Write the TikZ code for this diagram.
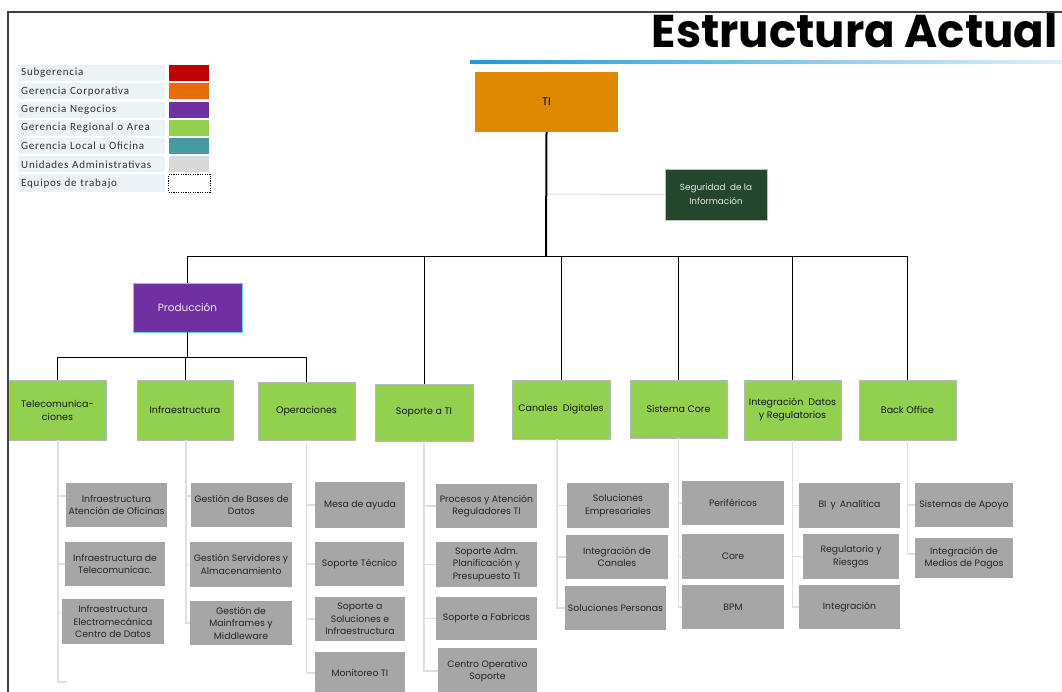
\documentclass[tikz,border=0pt]{standalone}
\usepackage{fontspec}
\setmainfont{Poppins}
\newfontfamily\legfont[LetterSpace=7]{Carlito}
\newfontfamily\titlefont{Poppins}
\usepackage{graphicx}
\definecolor{tiorange}{HTML}{DD8800}
\definecolor{segreen}{HTML}{22472D}
\definecolor{prodpurple}{HTML}{7030A0}
\definecolor{areagreen}{HTML}{92D050}
\definecolor{unitgray}{HTML}{A6A6A6}
\definecolor{subred}{HTML}{C00000}
\definecolor{corporange}{HTML}{E46C0A}
\definecolor{localteal}{HTML}{4599A0}
\definecolor{admgray}{HTML}{D9D9D9}
\definecolor{legbg}{HTML}{E9F2F4}
\definecolor{subline}{HTML}{DCE1E5}
\definecolor{framegray}{HTML}{404040}
\definecolor{titleblue}{HTML}{1E9AD6}
\definecolor{titlelight}{HTML}{DDF0FA}
\tikzset{
  box/.style={rectangle, inner sep=1pt, align=center, font=\fontsize{9.3}{12.5}\selectfont},
  unit/.style={box, fill=unitgray, text=black!85},
  area/.style={box, fill=areagreen, draw=black!28, line width=0.9pt, text=black!90, font=\fontsize{9.5}{13}\selectfont},
  conn/.style={draw=black, line width=0.9pt},
  spine/.style={draw=black, line width=2pt},
  sub/.style={draw=subline, line width=1.3pt},
  legtext/.style={rectangle, fill=legbg, anchor=west, inner sep=0pt, minimum width=147pt, minimum height=16pt, text=black!80, font=\legfont\fontsize{11}{12}\selectfont, text width=145pt, align=left},
  swatch/.style={rectangle, anchor=west, inner sep=0pt, minimum width=40pt, minimum height=16pt}
}
\begin{document}
\begin{tikzpicture}[x=1pt,y=-1pt]
\useasboundingbox (0,0) rectangle (1062,692);
% frame
\draw[framegray, line width=1.2pt] (1062,12) -- (8,12) -- (8,692);
% title
\node[anchor=base east, inner sep=0pt] (title) at (1058,48) {\resizebox{406pt}{34pt}{\titlefont\bfseries Estructura Actual}};
\shade[left color=titleblue, right color=titlelight] (470,60.5) rectangle (1062,64);
% legend
\node[legtext] (l1) at (18,73) {\hspace*{2pt}Subgerencia};
\node[legtext] (l2) at (18,91.3) {\hspace*{2pt}Gerencia Corporativa};
\node[legtext] (l3) at (18,109.6) {\hspace*{2pt}Gerencia Negocios};
\node[legtext] (l4) at (18,127.9) {\hspace*{2pt}Gerencia Regional o Area};
\node[legtext] (l5) at (18,146.2) {\hspace*{2pt}Gerencia Local u Oficina};
\node[legtext] (l6) at (18,164.5) {\hspace*{2pt}Unidades Administrativas};
\node[legtext, minimum height=18pt] (l7) at (18,183.5) {\hspace*{2pt}Equipos de trabajo};
\node[swatch, fill=subred] (s1) at (169,73) {};
\node[swatch, fill=corporange] (s2) at (169,91.3) {};
\node[swatch, fill=prodpurple] (s3) at (169,109.6) {};
\node[swatch, fill=areagreen] (s4) at (169,127.9) {};
\node[swatch, fill=localteal] (s5) at (169,146.2) {};
\node[swatch, fill=admgray] (s6) at (169,164.5) {};
\node[swatch, fill=white, draw=black, line width=1.1pt, dash pattern=on 1.2pt off 1.2pt, minimum height=18pt, minimum width=42pt] (s7) at (168,183.5) {};

% top level
\node[box, fill=tiorange, minimum width=143pt, minimum height=60pt, font=\fontsize{11}{13}\selectfont] (ti) at (546.5,102) {TI};
\node[box, fill=segreen, draw=black!25, line width=0.8pt, text=white!92!black, minimum width=102pt, minimum height=51pt, font=\fontsize{8.8}{14}\selectfont] (seg) at (716,194.5) {Seguridad \ de la\\Información};
\coordinate (bus) at (546,256);
\coordinate (sj) at (546,194);
\draw[sub, line width=1pt] (sj) -- (seg.west);
\draw[spine] (ti.south) -- (bus);

\node[box, fill=prodpurple, draw=cyan!60, line width=0.9pt, text=white!92!black, minimum width=109pt, minimum height=49pt, font=\fontsize{10.5}{12}\selectfont] (prod) at (187.5,307.5) {Producción};

% level 2
\node[area, minimum width=97pt, minimum height=60pt] (tel) at (57.5,410) {Telecomunica-\\ciones};
\node[area, minimum width=96pt, minimum height=60pt] (inf) at (185,410) {Infraestructura};
\node[area, minimum width=97pt, minimum height=58pt] (ope) at (306.5,411) {Operaciones};
\node[area, minimum width=98pt, minimum height=57pt] (sop) at (424,412.5) {Soporte a TI};
\node[area, minimum width=98pt, minimum height=59pt] (can) at (561,409.5) {Canales \ Digitales};
\node[area, minimum width=97pt, minimum height=58pt] (cor) at (678.5,409) {Sistema Core};
\node[area, minimum width=97pt, minimum height=60pt] (int) at (792.5,410) {Integración \ Datos\\y Regulatorios};
\node[area, minimum width=97pt, minimum height=60pt] (bo) at (907.5,410) {Back Office};

% bus connectors
\draw[conn] (bus) -| (prod.north);
\draw[conn] (bus) -| (sop.north);
\draw[conn] (bus) -| (can.north);
\draw[conn] (bus) -| (cor.north);
\draw[conn] (bus) -| (int.north);
\draw[conn] (bus) -| (bo.north);
\coordinate (pj) at (187.5,357);
\draw[conn] (prod.south) -- (pj);
\draw[conn] (pj) -| (tel.north);
\draw[conn] (pj) -| (inf.north);
\draw[conn] (pj) -| (ope.north);

% units
\node[unit, minimum width=101pt, minimum height=44pt] (t1) at (116.5,505) {Infraestructura\\Atención de Oficinas};
\node[unit, minimum width=100pt, minimum height=44pt] (t2) at (115,564) {Infraestructura de\\Telecomunicac.};
\node[unit, minimum width=102pt, minimum height=45pt] (t3) at (113,621.5) {Infraestructura\\Electromecánica\\Centro de Datos};
\coordinate (tend) at (67,682);

\node[unit, minimum width=101pt, minimum height=44pt] (i1) at (241.5,505) {Gestión de Bases de\\Datos};
\node[unit, minimum width=102pt, minimum height=45pt] (i2) at (241,564.5) {Gestión Servidores y\\Almacenamiento};
\node[unit, minimum width=102pt, minimum height=44pt] (i3) at (241,623) {Gestión de\\Mainframes y\\Middleware};

\node[unit, minimum width=90pt, minimum height=46pt] (o1) at (360,505) {Mesa de ayuda};
\node[unit, minimum width=89pt, minimum height=44pt] (o2) at (359.5,564) {Soporte Técnico};
\node[unit, minimum width=90pt, minimum height=44pt] (o3) at (360,619) {Soporte a\\Soluciones e\\Infraestructura};
\node[unit, minimum width=90pt, minimum height=42pt] (o4) at (360,673) {Monitoreo TI};

\node[unit, minimum width=101pt, minimum height=44pt] (p1) at (486.5,506) {Procesos y Atención\\Reguladores TI};
\node[unit, minimum width=101pt, minimum height=45pt] (p2) at (486.5,564.5) {Soporte Adm.\\Planificación y\\Presupuesto TI};
\node[unit, minimum width=101pt, minimum height=43pt] (p3) at (486.5,618.5) {Soporte a Fabricas};
\node[unit, minimum width=99pt, minimum height=46pt] (p4) at (487.5,671) {Centro Operativo\\Soporte};

\node[unit, minimum width=102pt, minimum height=45pt] (c1) at (618,505.5) {Soluciones\\Empresariales};
\node[unit, minimum width=102pt, minimum height=44pt] (c2) at (617,557) {Integración de\\Canales};
\node[unit, minimum width=101pt, minimum height=44pt] (c3) at (615.5,608) {Soluciones Personas};

\node[unit, minimum width=102pt, minimum height=44pt] (k1) at (733,503) {Periféricos};
\node[unit, minimum width=102pt, minimum height=45pt] (k2) at (733,556.5) {Core};
\node[unit, minimum width=102pt, minimum height=44pt] (k3) at (733,607) {BPM};

\node[unit, minimum width=101pt, minimum height=45pt] (n1) at (849.5,505.5) {BI \,y \,Analítica};
\node[unit, minimum width=96pt, minimum height=45pt] (n2) at (851,556.5) {Regulatorio y\\Riesgos};
\node[unit, minimum width=101pt, minimum height=44pt] (n3) at (849.5,607) {Integración};

\node[unit, minimum width=98pt, minimum height=44pt] (b1) at (964,505) {Sistemas de Apoyo};
\node[unit, minimum width=98pt, minimum height=40pt] (b2) at (964,558) {Integración de\\Medios de Pagos};

% sub connectors
\draw[sub] ([xshift=0.5pt]tel.south) |- ([yshift=9pt]t1.west);
\draw[sub] ([xshift=0.5pt]tel.south) |- (t2.west);
\draw[sub] ([xshift=0.5pt]tel.south) |- ([yshift=9pt]t3.west);
\draw[sub] ([xshift=0.5pt]tel.south) |- (tend);

\draw[sub] ([xshift=1pt]inf.south) |- ([yshift=9pt]i1.west);
\draw[sub] ([xshift=1pt]inf.south) |- (i2.west);
\draw[sub] ([xshift=1pt]inf.south) |- (i3.west);

\draw[sub] (ope.south) |- (o1.west);
\draw[sub] (ope.south) |- (o2.west);
\draw[sub] (ope.south) |- (o3.west);
\draw[sub] (ope.south) |- (o4.west);

\draw[sub] (sop.south) |- (p1.west);
\draw[sub] (sop.south) |- (p2.west);
\draw[sub] (sop.south) |- (p3.west);
\draw[sub] (sop.south) |- (p4.west);

\draw[sub] ([xshift=-4pt]can.south) |- (c1.west);
\draw[sub] ([xshift=-4pt]can.south) |- (c2.west);
\draw[sub] ([xshift=-4pt]can.south) |- (c3.west);

\draw[sub] (cor.south) |- (k1.west);
\draw[sub] (cor.south) |- (k2.west);
\draw[sub] (cor.south) |- (k3.west);

\draw[sub] (int.south) |- (n1.west);
\draw[sub] (int.south) |- (n2.west);
\draw[sub] (int.south) |- (n3.west);

\draw[sub] (bo.south) |- (b1.west);
\draw[sub] (bo.south) |- ([yshift=4pt]b2.west);
\end{tikzpicture}
\end{document}
